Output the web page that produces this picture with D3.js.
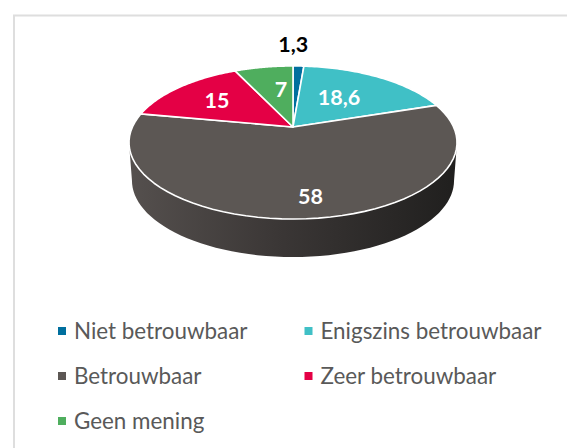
<!DOCTYPE html>
<html>
<head>
<meta charset="utf-8">
<script src="https://cdn.jsdelivr.net/npm/d3@7"></script>
<style>
  html, body { margin: 0; padding: 0; background: #fff; overflow: hidden; }
  svg { display: block; }
</style>
</head>
<body>
<script>
const width = 567;
const height = 448;

const categories = ["Niet betrouwbaar", "Enigszins betrouwbaar", "Betrouwbaar", "Zeer betrouwbaar", "Geen mening"];
const values = [1.3, 18.6, 58, 15, 7];
const valueLabels = ["1,3", "18,6", "58", "15", "7"];
const colors = ["#006f9e", "#40c0c6", "#5c5754", "#e40045", "#4fae5e"];

const svg = d3.select("body")
  .append("svg")
  .attr("width", width)
  .attr("height", height)
  .attr("viewBox", [0, 0, width, height])
  .style("font-family", "Lato, sans-serif");

// chart frame, runs off the right and bottom edge of the picture
svg.append("rect")
  .attr("x", 14)
  .attr("y", 15.5)
  .attr("width", width)
  .attr("height", height)
  .attr("fill", "#fff")
  .attr("stroke", "#dedede")
  .attr("stroke-width", 2);

// Tilted pie: a circle seen in perspective, so the apex sits above the ellipse centre
const cx = 293;
const apexY = 127;
const tilt = 0.2026;
const radiusX = 160.6;
const radiusY = 73.4;
const depth = 38;

function project(angle, r = 1) {
  const u = r * Math.sin(angle);
  const v = -r * Math.cos(angle);
  const w = 1 - tilt * v;
  return [cx + radiusX * u / w, apexY + radiusY * v / w];
}

const line = d3.line();
const arcPoints = (a0, a1) => d3.range(0, 61).map(i => project(a0 + (a1 - a0) * i / 60));

// Side wall
const defs = svg.append("defs");
const sideGradient = defs.append("linearGradient")
  .attr("id", "side")
  .attr("x1", 0).attr("x2", 1).attr("y1", 0).attr("y2", 0);
sideGradient.append("stop").attr("offset", "0%").attr("stop-color", "#55504e");
sideGradient.append("stop").attr("offset", "45%").attr("stop-color", "#3b3736");
sideGradient.append("stop").attr("offset", "100%").attr("stop-color", "#201f1e");

const silhouette0 = Math.acos(-tilt);
const silhouette1 = 2 * Math.PI - silhouette0;
const rim = arcPoints(silhouette0, silhouette1);
const lower = rim.slice().reverse().map(([x, y]) => [cx + (x - cx) * 0.982, y + depth]);

svg.append("path")
  .attr("d", line(rim.concat(lower)) + "Z")
  .attr("fill", "url(#side)");

// Top face
const slices = d3.pie().sort(null)(values);

svg.append("g")
  .selectAll("path")
  .data(slices)
  .join("path")
  .attr("d", d => line([project(0, 0), ...arcPoints(d.startAngle, d.endAngle)]) + "Z")
  .attr("fill", (d, i) => colors[i])
  .attr("stroke", "#fff")
  .attr("stroke-width", 1.6)
  .attr("stroke-linejoin", "round");

// Data labels: along the middle angle of each slice, then nudged by hand like the original
const labelRadius = [1.17, 0.62, 0.62, 0.62, 0.72];
const labelNudgeX = [-6, -10, 10, -3, 10];
const labelNudgeY = [-13, 3, 17, -1, 7];
const labelPos = (d, i) => project((d.startAngle + d.endAngle) / 2, labelRadius[i]);

svg.append("g")
  .selectAll("text")
  .data(slices)
  .join("text")
  .attr("x", (d, i) => labelPos(d, i)[0] + labelNudgeX[i])
  .attr("y", (d, i) => labelPos(d, i)[1] + labelNudgeY[i])
  .attr("text-anchor", "middle")
  .attr("dy", "0.36em")
  .attr("font-size", 21.5)
  .attr("font-weight", 700)
  .attr("fill", (d, i) => i === 0 ? "#000" : "#fff")
  .text((d, i) => valueLabels[i]);

// Legend in two columns
const legendX = d3.scalePoint().domain([0, 1]).range([62, 308.5]);
const legendY = d3.scalePoint().domain([0, 1, 2]).range([331, 421]);

const legend = svg.append("g")
  .selectAll("g")
  .data(categories)
  .join("g")
  .attr("transform", (d, i) => `translate(${legendX(i % 2)},${legendY(Math.floor(i / 2))})`);

legend.append("rect")
  .attr("x", -4)
  .attr("y", -4)
  .attr("width", 8)
  .attr("height", 8)
  .attr("fill", (d, i) => colors[i]);

legend.append("text")
  .attr("x", 12)
  .attr("dy", "0.35em")
  .attr("font-size", 22.4)
  .attr("fill", "#595959")
  .text(d => d);
</script>
</body>
</html>
